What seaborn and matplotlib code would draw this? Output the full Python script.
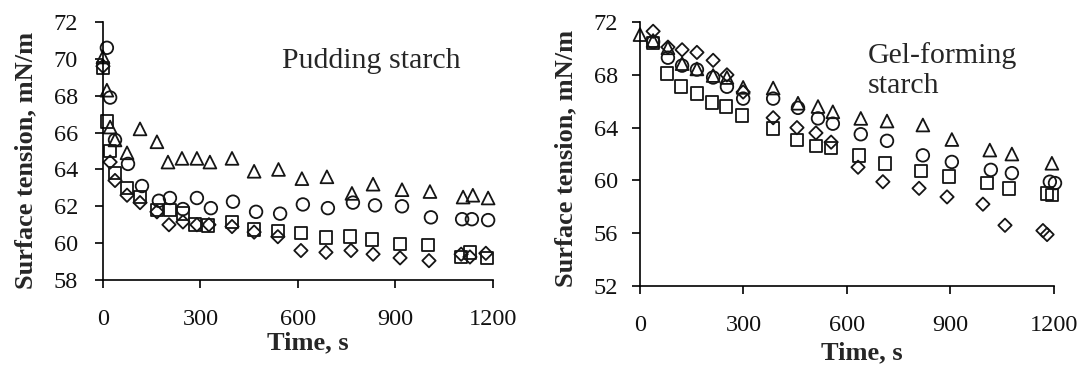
import pandas as pd
import matplotlib
matplotlib.use("Agg")
import matplotlib.pyplot as plt
import seaborn as sns

# --- Pudding starch (left panel) ---
pud_tri_t = [0, 12, 22, 37, 74, 114, 166, 200, 243, 289, 329, 397, 465, 540, 612, 689, 766, 831, 920, 1006, 1108, 1138, 1185]
pud_tri_v = [70.1, 68.3, 66.3, 65.6, 64.9, 66.2, 65.5, 64.4, 64.6, 64.6, 64.4, 64.6, 63.9, 64.0, 63.5, 63.6, 62.7, 63.2, 62.9, 62.8, 62.5, 62.6, 62.45]

pud_cir_t = [12, 22, 37, 77, 120, 172, 206, 246, 289, 332, 400, 471, 545, 615, 692, 769, 837, 920, 1009, 1105, 1135, 1185]
pud_cir_v = [70.6, 67.9, 65.6, 64.3, 63.1, 62.3, 62.45, 61.85, 62.45, 61.9, 62.25, 61.7, 61.6, 62.1, 61.9, 62.2, 62.05, 62.0, 61.4, 61.3, 61.3, 61.25]

pud_sq_t = [0, 12, 22, 37, 74, 114, 166, 206, 246, 283, 323, 397, 465, 538, 609, 686, 760, 828, 914, 1000, 1102, 1129, 1182]
pud_sq_v = [69.5, 66.6, 65.0, 63.8, 63.0, 62.5, 61.8, 61.8, 61.6, 61.0, 60.95, 61.15, 60.75, 60.65, 60.55, 60.3, 60.35, 60.2, 59.95, 59.9, 59.25, 59.5, 59.2]

pud_dia_t = [0, 22, 37, 74, 114, 166, 203, 246, 289, 326, 397, 465, 538, 609, 686, 763, 831, 914, 1003, 1102, 1129, 1178]
pud_dia_v = [69.6, 64.4, 63.4, 62.6, 62.2, 61.7, 61.0, 61.15, 61.0, 61.0, 60.9, 60.6, 60.35, 59.6, 59.5, 59.6, 59.4, 59.2, 59.05, 59.4, 59.25, 59.45]

# --- Gel-forming starch (right panel) ---
gel_tri_t = [0, 38, 81, 122, 165, 212, 252, 299, 386, 458, 516, 559, 640, 716, 820, 904, 1014, 1078, 1194]
gel_tri_v = [71.05, 70.6, 70.05, 68.85, 68.45, 67.95, 67.8, 67.05, 67.0, 65.85, 65.6, 65.2, 64.7, 64.5, 64.2, 63.1, 62.3, 62.0, 61.3]

gel_cir_t = [38, 81, 122, 165, 212, 252, 299, 386, 458, 516, 559, 640, 716, 820, 904, 1017, 1078, 1188, 1203]
gel_cir_v = [70.5, 69.3, 68.7, 68.4, 67.8, 67.1, 66.2, 66.2, 65.5, 64.7, 64.3, 63.5, 63.0, 61.9, 61.4, 60.8, 60.55, 59.9, 59.8]

gel_sq_t = [38, 78, 119, 165, 209, 249, 296, 386, 455, 510, 554, 635, 710, 814, 896, 1006, 1070, 1180, 1194]
gel_sq_v = [70.4, 68.1, 67.1, 66.6, 65.9, 65.6, 64.9, 63.95, 63.05, 62.6, 62.45, 61.9, 61.3, 60.7, 60.3, 59.8, 59.4, 59.0, 58.9]

gel_dia_t = [38, 81, 122, 165, 212, 252, 299, 386, 455, 510, 554, 632, 704, 809, 890, 994, 1058, 1168, 1180]
gel_dia_v = [71.3, 70.1, 69.9, 69.7, 69.1, 68.0, 66.7, 64.75, 64.0, 63.6, 62.9, 61.0, 59.9, 59.4, 58.75, 58.2, 56.6, 56.2, 55.9]

x_ticks = [0, 300, 600, 900, 1200]
pud_y_ticks = [58, 60, 62, 64, 66, 68, 70, 72]
gel_y_ticks = [52, 56, 60, 64, 68, 72]

sns.set_style("white")
plt.rcParams["font.family"] = ["Liberation Serif", "DejaVu Serif"]

# marker -> size; diamond 'D' is drawn larger by matplotlib, so smaller s
markers = {"^": 85, "o": 82, "s": 82, "D": 46}
edge = "#151515"


def long_df(series):
    rows = []
    for mk, t, v in series:
        for ti, vi in zip(t, v):
            rows.append({"Time": ti, "Tension": vi, "marker": mk})
    return pd.DataFrame(rows)


def draw_panel(ax, df, yticks, ylim):
    for mk in ["^", "o", "s", "D"]:
        sub = df[df["marker"] == mk]
        sns.scatterplot(data=sub, x="Time", y="Tension", ax=ax, marker=mk,
                        s=markers[mk], color=edge, facecolor="none",
                        edgecolor=edge, linewidth=1.3, clip_on=False,
                        legend=False)
    ax.set_xlim(0, 1200)
    ax.set_ylim(*ylim)
    ax.set_xticks(x_ticks)
    ax.set_yticks(yticks)
    sns.despine(ax=ax)
    for sp in ["left", "bottom"]:
        ax.spines[sp].set_linewidth(1.2)
        ax.spines[sp].set_color("black")
    ax.tick_params(axis="both", direction="out", length=6, width=1.2,
                   color="black", labelsize=17.5, labelcolor="#111111",
                   bottom=True, left=True)
    ax.tick_params(axis="x", pad=15)
    ax.set_xlabel("Time, s", fontsize=19, fontweight="bold")
    ax.set_ylabel("Surface tension, mN/m", fontsize=19, fontweight="bold")


fig = plt.figure(figsize=(10.84, 3.74), dpi=100)

ax1 = fig.add_axes([0.095, 0.2513, 0.3598, 0.6899])
pud = long_df([("^", pud_tri_t, pud_tri_v), ("o", pud_cir_t, pud_cir_v),
               ("s", pud_sq_t, pud_sq_v), ("D", pud_dia_t, pud_dia_v)])
draw_panel(ax1, pud, pud_y_ticks, (58, 72))
ax1.tick_params(axis="y", pad=12)
ax1.yaxis.set_label_coords(-0.169, 0.465)
ax1.xaxis.set_label_coords(0.526, -0.2)
ax1.text(0.459, 0.82, "Pudding starch", transform=ax1.transAxes,
         fontsize=21.5, va="baseline", ha="left")

ax2 = fig.add_axes([0.5904, 0.2353, 0.3819, 0.7057])
gel = long_df([("^", gel_tri_t, gel_tri_v), ("o", gel_cir_t, gel_cir_v),
               ("s", gel_sq_t, gel_sq_v), ("D", gel_dia_t, gel_dia_v)])
draw_panel(ax2, gel, gel_y_ticks, (52, 72))
ax2.tick_params(axis="y", pad=10)
ax2.yaxis.set_label_coords(-0.152, 0.485)
ax2.xaxis.set_label_coords(0.536, -0.21)
ax2.text(0.551, 0.73, "Gel-forming\nstarch", transform=ax2.transAxes,
         fontsize=21.5, va="baseline", ha="left", linespacing=1.2)

fig.savefig("out.png", dpi=100)
plt.close(fig)
